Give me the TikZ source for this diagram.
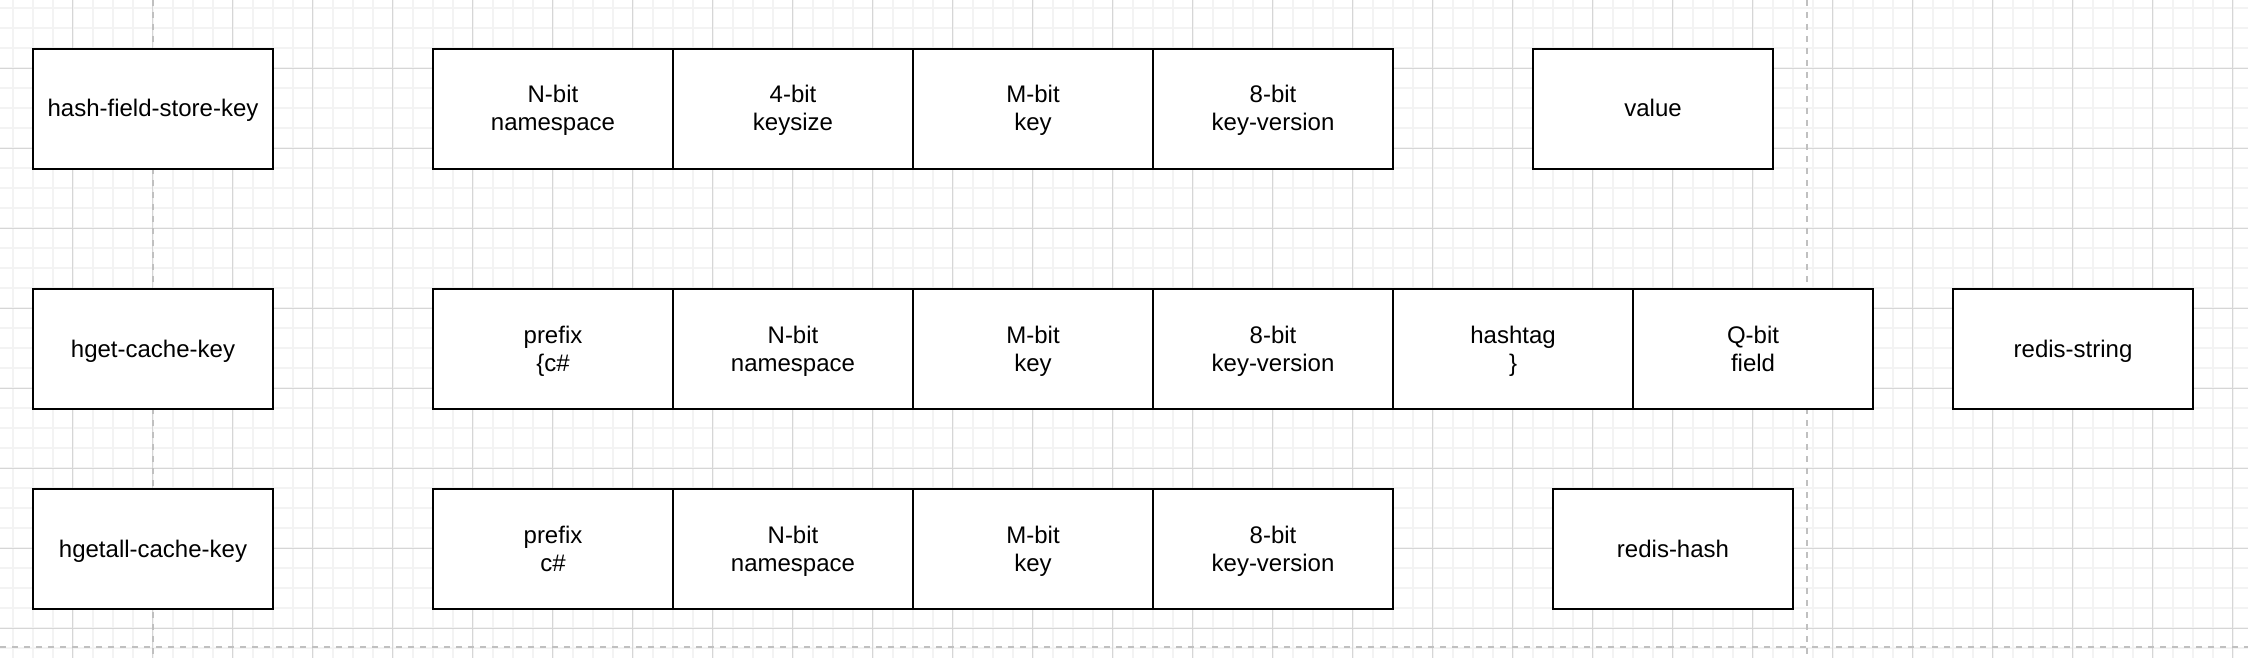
\documentclass[tikz,border=0pt]{standalone}
\usepackage{fontspec}
\setmainfont{Liberation Sans}
\definecolor{minorgrid}{HTML}{F3F3F3}
\definecolor{majorgrid}{HTML}{D6D6D6}
\definecolor{pagebreak}{HTML}{C0C0C0}
\newcommand\lnstrut{\rule[-3pt]{0pt}{14pt}}
\tikzset{
  cell/.style={draw=black, line width=1pt, fill=white, minimum width=120pt, minimum height=60pt,
    inner sep=0pt, align=center, font=\fontsize{12}{14}\selectfont},
  minorline/.style={draw=minorgrid, line width=1pt},
  majorline/.style={draw=majorgrid, line width=0.6pt},
  breakline/.style={draw=pagebreak, line width=1pt, dash pattern=on 3pt off 3pt}
}
\begin{document}
\begin{tikzpicture}[x=0.5pt,y=-0.5pt]
\useasboundingbox (0,0) rectangle (2248,658);
\fill[white] (0,0) rectangle (2248,658);
% grid
\foreach \i in {0,...,112} { \draw[minorline] ({12.7+20*\i},0) -- ({12.7+20*\i},658); }
\foreach \j in {0,...,32} { \draw[minorline] (0,{8.3+20*\j}) -- (2248,{8.3+20*\j}); }
\foreach \i in {0,...,27} { \draw[majorline] ({72.7+80*\i},0) -- ({72.7+80*\i},658); }
\foreach \j in {0,...,7} { \draw[majorline] (0,{68.3+80*\j}) -- (2248,{68.3+80*\j}); }
% page breaks
\coordinate (pbA1) at (152.7,0); \coordinate (pbA2) at (152.7,658);
\coordinate (pbB1) at (1807,0); \coordinate (pbB2) at (1807,658);
\coordinate (pbC1) at (0,646.7); \coordinate (pbC2) at (2248,646.7);
\draw[breakline] (pbA1) -- (pbA2);
\draw[breakline] (pbB1) -- (pbB2);
\draw[breakline] (pbC1) -- (pbC2);
% row 1
\node[cell] (l1) at (153,109) {\lnstrut hash-field-store-key};
\node[cell] (a1) at (553,109) {\lnstrut N-bit\\\lnstrut namespace};
\node[cell] (a2) at (793,109) {\lnstrut 4-bit\\\lnstrut keysize};
\node[cell] (a3) at (1033,109) {\lnstrut M-bit\\\lnstrut key};
\node[cell] (a4) at (1273,109) {\lnstrut 8-bit\\\lnstrut key-version};
\node[cell] (val) at (1653,109) {\lnstrut value};
% row 2
\node[cell] (l2) at (153,349) {\lnstrut hget-cache-key};
\node[cell] (b1) at (553,349) {\lnstrut prefix\\\lnstrut \{c\#};
\node[cell] (b2) at (793,349) {\lnstrut N-bit\\\lnstrut namespace};
\node[cell] (b3) at (1033,349) {\lnstrut M-bit\\\lnstrut key};
\node[cell] (b4) at (1273,349) {\lnstrut 8-bit\\\lnstrut key-version};
\node[cell] (b5) at (1513,349) {\lnstrut hashtag\\\lnstrut \}};
\node[cell] (b6) at (1753,349) {\lnstrut Q-bit\\\lnstrut field};
\node[cell] (rs) at (2073,349) {\lnstrut redis-string};
% row 3
\node[cell] (l3) at (153,549) {\lnstrut hgetall-cache-key};
\node[cell] (c1) at (553,549) {\lnstrut prefix\\\lnstrut c\#};
\node[cell] (c2) at (793,549) {\lnstrut N-bit\\\lnstrut namespace};
\node[cell] (c3) at (1033,549) {\lnstrut M-bit\\\lnstrut key};
\node[cell] (c4) at (1273,549) {\lnstrut 8-bit\\\lnstrut key-version};
\node[cell] (rh) at (1673,549) {\lnstrut redis-hash};
\end{tikzpicture}
\end{document}
